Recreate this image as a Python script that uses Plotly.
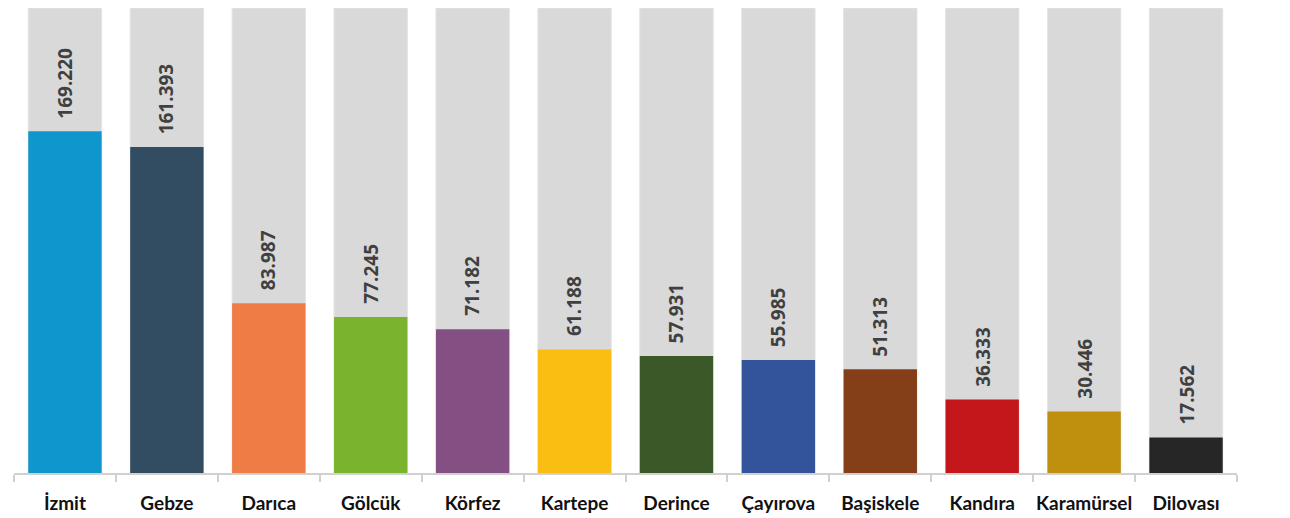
import plotly.graph_objects as go

districts = ['İzmit', 'Gebze', 'Darıca', 'Gölcük', 'Körfez', 'Kartepe',
             'Derince', 'Çayırova', 'Başiskele', 'Kandıra', 'Karamürsel', 'Dilovası']
population = [169220, 161393, 83987, 77245, 71182, 61188,
              57931, 55985, 51313, 36333, 30446, 17562]
value_labels = ['169.220', '161.393', '83.987', '77.245', '71.182', '61.188',
                '57.931', '55.985', '51.313', '36.333', '30.446', '17.562']
bar_colors = ['#0E96CD', '#324D61', '#EF7B45', '#7AB32E', '#844F82', '#FABD12',
              '#3A5828', '#33539A', '#843E18', '#C4171C', '#BF8F0E', '#262626']

# grey "track" behind each bar reaches the top of the plot
track_top = 230200
track = [track_top] * len(districts)

fig = go.Figure()

fig.add_trace(go.Bar(
    x=districts, y=track,
    marker=dict(color='#D9D9D9', line=dict(color='#E4E4E4', width=1)),
    hoverinfo='skip',
))
fig.add_trace(go.Bar(
    x=districts, y=population,
    marker=dict(color=bar_colors, line=dict(width=0)),
))

for d, v, lbl in zip(districts, population, value_labels):
    fig.add_annotation(
        x=d, y=v, text=lbl, textangle=-90,
        showarrow=False, xanchor='center', yanchor='bottom', yshift=11,
        font=dict(family='Open Sans', size=19, color='#404040', weight='bold'),
    )

fig.update_layout(
    width=1290, height=518,
    margin=dict(l=6, r=61, t=0, b=53, autoexpand=False),
    barmode='overlay', bargap=0.28,
    showlegend=False,
    plot_bgcolor='white', paper_bgcolor='white',
)
fig.update_xaxes(
    showline=True, linecolor='#D0D0D0', linewidth=1.5,
    ticks='outside', tickson='boundaries', ticklen=7, tickcolor='#D0D0D0', tickwidth=1.5,
    tickfont=dict(family='Lato', size=19, color='#111111', weight='bold'),
    tickangle=0, automargin=False,
    ticklabelstandoff=12,
    showgrid=False,
)
fig.update_yaxes(range=[0, track_top], visible=False, showgrid=False)

fig.write_html('out.html')
